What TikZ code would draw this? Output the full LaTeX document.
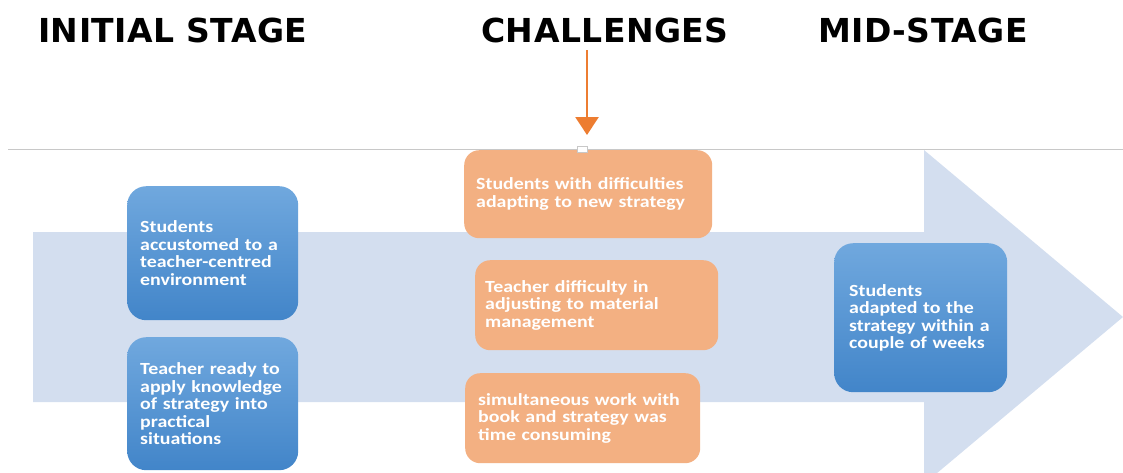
\documentclass[tikz,border=0pt]{standalone}
\usepackage{fontspec}
\usetikzlibrary{arrows.meta}
\newfontfamily\titlefont{DejaVu Sans}[LetterSpace=1.5]
\newfontfamily\bxfont{Carlito}[FakeStretch=1.17]
\definecolor{shaftblue}{HTML}{D3DEEF}
\definecolor{bluetop}{HTML}{70A8DE}
\definecolor{bluebot}{HTML}{4285C9}
\definecolor{orangefill}{HTML}{F3B082}
\definecolor{orangeline}{HTML}{ED7D31}
\definecolor{rulegray}{HTML}{C8C8C8}
\tikzset{
  title/.style={anchor=base west, inner sep=0pt, font=\titlefont\bfseries\fontsize{33}{36}\selectfont, text=black},
  boxtext/.style={font=\bxfont\bfseries\fontsize{17}{17.5}\selectfont, text=white, align=left, anchor=north west, inner ysep=0pt},
  bluebox/.style={boxtext, rounded corners=19pt, top color=bluetop, bottom color=bluebot, draw=none},
  orangebox/.style={boxtext, rounded corners=15pt, fill=orangefill, draw=none},
}
\begin{document}
\begin{tikzpicture}[x=1pt,y=-1pt]
\useasboundingbox (0,0) rectangle (1123,472);
\clip (0,0) rectangle (1123,472);
% rule
\coordinate (r1) at (8,149);
\coordinate (r2) at (1123,149);
\draw[rulegray, line width=1pt] (r1) -- (r2);
% big arrow
\fill[shaftblue] (33,232) -- (924,232) -- (924,150) -- (1123,317) -- (924,484) -- (924,402) -- (33,402) -- cycle;
% titles
\node[title] (init) at (38,42) {INITIAL STAGE};
\node[title] (chal) at (481,42) {CHALLENGES};
\node[title] (mid) at (818,42) {MID-STAGE};
% blue boxes
\node[bluebox, inner xsep=13pt, text width=145pt, minimum width=171pt, minimum height=134pt] (b1) at (127,186)
  {Students\\accustomed to a\\teacher-centred\\environment};
\node[bluebox, inner xsep=13pt, text width=145pt, minimum width=171pt, minimum height=133pt] (b2) at (127,337)
  {Teacher ready to\\apply knowledge\\of strategy into\\practical\\situations};
% orange boxes
\node[orangebox, inner xsep=12pt, text width=224pt, minimum width=248pt, minimum height=88pt] (o1) at (464,150)
  {Students with difficulties\\adapting to new strategy};
\node[orangebox, inner xsep=10pt, text width=223pt, minimum width=243pt, minimum height=90pt] (o2) at (475,260)
  {Teacher difficulty in\\adjusting to material\\management};
\node[orangebox, inner xsep=13pt, text width=209pt, minimum width=235pt, minimum height=90pt] (o3) at (465,373)
  {simultaneous work with\\book and strategy was\\time consuming};
% mid box
\node[bluebox, inner xsep=15pt, text width=143pt, minimum width=173pt, minimum height=149pt] (m1) at (834,243)
  {Students\\adapted to the\\strategy within a\\couple of weeks};
% small handle
\node[draw=rulegray, fill=white, line width=0.6pt, minimum width=10pt, minimum height=6pt, inner sep=0pt] (h) at (582.5,149) {};
% challenge arrow
\coordinate (a1) at (587,50);
\coordinate (a2) at (587,135);
\draw[orangeline, line width=2.6pt, -{Triangle[width=23pt,length=18pt]}] (a1) -- (a2);
\end{tikzpicture}
\end{document}
